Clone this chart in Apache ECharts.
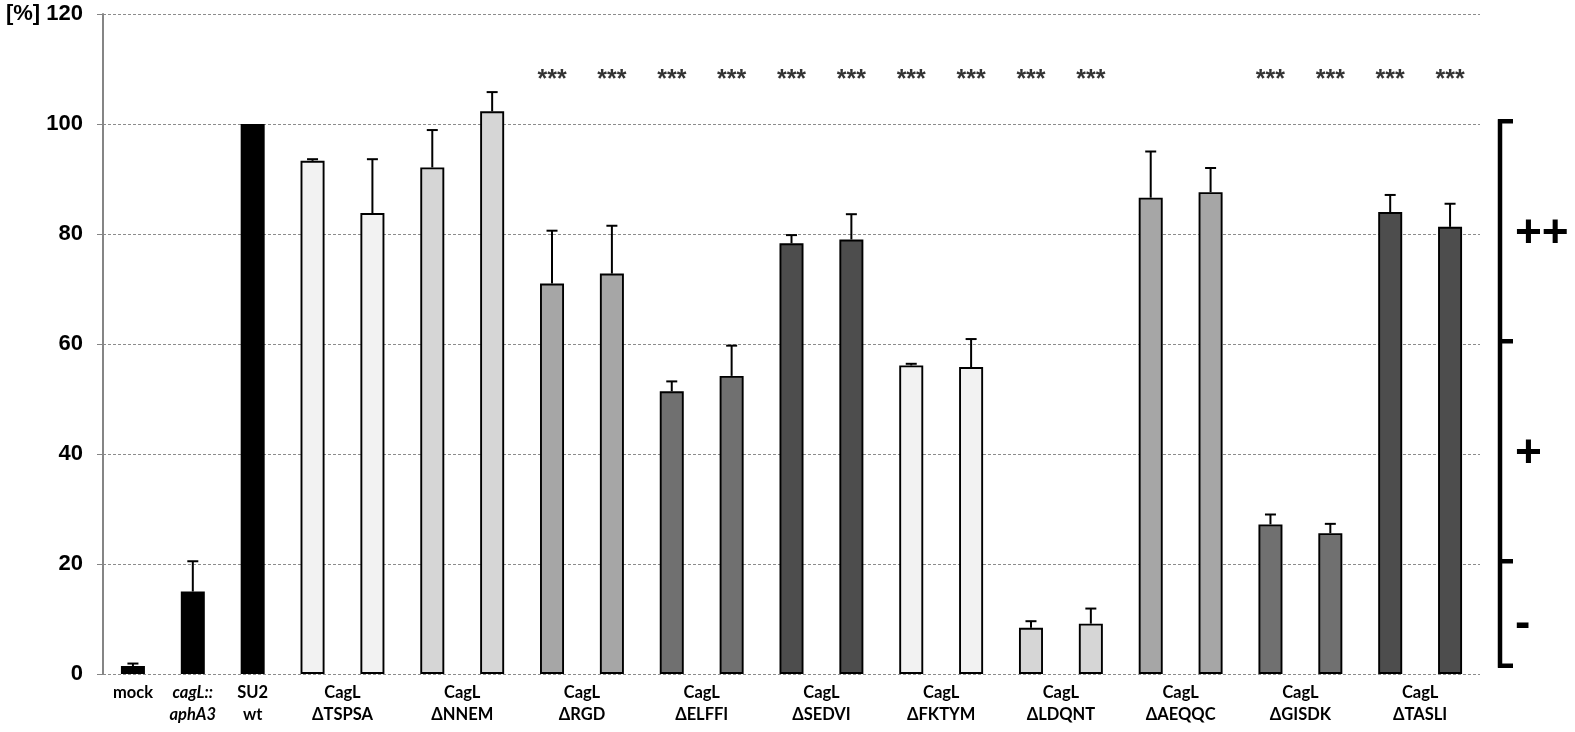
<!DOCTYPE html>
<html>
<head>
<meta charset="utf-8">
<script src="https://cdn.jsdelivr.net/npm/echarts@6/dist/echarts.min.js"></script>
<style>
html,body{margin:0;padding:0;background:#fff;}
#chart{width:1575px;height:732px;}
</style>
</head>
<body>
<div id="chart"></div>
<script>
// ---- data ----
const groupNames = ['mock', 'cagL::\naphA3', 'SU2\nwt', 'CagL\nΔTSPSA', 'CagL\nΔNNEM', 'CagL\nΔRGD', 'CagL\nΔELFFI', 'CagL\nΔSEDVI', 'CagL\nΔFKTYM', 'CagL\nΔLDQNT', 'CagL\nΔAEQQC', 'CagL\nΔGISDK', 'CagL\nΔTASLI'];
const groupSizes = [1, 1, 1, 2, 2, 2, 2, 2, 2, 2, 2, 2, 2];
const groupColors = ['#000000', '#000000', '#000000', '#f2f2f2', '#d6d6d6', '#a6a6a6', '#707070', '#4d4d4d', '#f2f2f2', '#d6d6d6', '#a6a6a6', '#707070', '#4d4d4d'];
const categories = ['mock', 'cagL::aphA3', 'SU2 wt', 'ΔTSPSA a', 'ΔTSPSA b', 'ΔNNEM a', 'ΔNNEM b', 'ΔRGD a', 'ΔRGD b', 'ΔELFFI a', 'ΔELFFI b', 'ΔSEDVI a', 'ΔSEDVI b', 'ΔFKTYM a', 'ΔFKTYM b', 'ΔLDQNT a', 'ΔLDQNT b', 'ΔAEQQC a', 'ΔAEQQC b', 'ΔGISDK a', 'ΔGISDK b', 'ΔTASLI a', 'ΔTASLI b'];
const values = [1.45, 15.0, 100, 93.3, 83.8, 92.1, 102.3, 71.0, 72.8, 51.4, 54.2, 78.3, 79.0, 56.1, 55.8, 8.4, 9.15, 86.6, 87.6, 27.2, 25.6, 84.0, 81.3];
const errors = [0.45, 5.5, 0, 0.3, 9.8, 6.8, 3.5, 9.6, 8.7, 1.8, 5.5, 1.5, 4.6, 0.3, 5.1, 1.2, 2.75, 8.4, 4.4, 1.8, 1.7, 3.1, 4.2];
const significant = [false, false, false, false, false, false, false, true, true, true, true, true, true, true, true, true, true, false, false, true, true, true, true];
const sigMark = '***';
const yTicks = [0, 20, 40, 60, 80, 100, 120];
const yUnit = '[%]';
const bracketLevels = [100.5, 60.5, 20.5, 1.5];
const tierLabels = ['++', '+', '-'];
const tierPositions = [80, 40, 9];

// ---- derived ----
const barColors = [];
const labelAt = {};
let idx = 0;
groupSizes.forEach((s, g) => {
  for (let k = 0; k < s; k++) barColors.push(groupColors[g]);
  labelAt[(idx + (s - 1) / 2).toFixed(1)] = groupNames[g];
  idx += s;
});

const chart = echarts.init(document.getElementById('chart'));
const catFont = 'Lato, "Open Sans", sans-serif';

const option = {
  animation: false,
  backgroundColor: '#fff',
  grid: { left: 103, right: 95, top: 14, bottom: 58, containLabel: false },
  xAxis: [
    {
      type: 'category', data: categories, position: 'bottom',
      axisLine: { show: false }, axisTick: { show: false }, axisLabel: { show: false }, splitLine: { show: false }
    },
    {
      type: 'value', min: -0.5, max: 22.5, interval: 0.5, position: 'bottom',
      axisLine: { show: false }, axisTick: { show: false }, splitLine: { show: false },
      axisLabel: {
        show: true, margin: 8, showMinLabel: true, showMaxLabel: true, hideOverlap: false,
        formatter: function (v) {
          const t = labelAt[v.toFixed(1)];
          if (!t) return '';
          if (t.indexOf('cagL::') === 0) {
            return t.split('\n').map(s => '{it|' + s + '}').join('\n');
          }
          return t.split('\n').map(s => '{b|' + s + '}').join('\n');
        },
        rich: {
          b: { fontFamily: catFont, fontWeight: 'bold', fontSize: 16.5, color: '#000', lineHeight: 22 },
          it: { fontFamily: catFont, fontWeight: 'bold', fontStyle: 'italic', fontSize: 16.5, color: '#000', lineHeight: 22 }
        }
      }
    }
  ],
  yAxis: {
    type: 'value', min: 0, max: 120, interval: 20,
    axisLine: { show: true, onZero: false, lineStyle: { color: '#858585', width: 2 } },
    axisTick: { show: true, inside: false, length: 6, lineStyle: { color: '#858585', width: 1 } },
    axisLabel: {
      margin: 20, color: '#000', fontSize: 22, fontWeight: 'bold', fontFamily: '"Liberation Sans", Arial, sans-serif',
      formatter: function (v) { return (v === yTicks[yTicks.length - 1]) ? yUnit + ' ' + v : String(v); }
    },
    splitLine: { show: true, lineStyle: { color: '#8c8c8c', width: 1, type: [3, 2] } }
  },
  series: [
    {
      type: 'bar', xAxisIndex: 0, barWidth: 24, z: 2,
      data: values.map((v, i) => ({ value: v, itemStyle: { color: barColors[i], borderColor: '#000', borderWidth: 1.9 } }))
    },
    {
      type: 'custom', xAxisIndex: 0, z: 3,
      data: values.map((v, i) => [i, v, v + errors[i], errors[i]]),
      renderItem: function (params, api) {
        if (api.value(3) <= 0) return null;
        const p0 = api.coord([api.value(0), api.value(1)]);
        const p1 = api.coord([api.value(0), api.value(2)]);
        const st = { stroke: '#000', lineWidth: 2 };
        return {
          type: 'group',
          children: [
            { type: 'line', shape: { x1: p0[0], y1: p0[1], x2: p1[0], y2: p1[1] }, style: st },
            { type: 'line', shape: { x1: p1[0] - 5.5, y1: p1[1], x2: p1[0] + 5.5, y2: p1[1] }, style: st }
          ]
        };
      }
    },
    {
      type: 'scatter', xAxisIndex: 0, symbolSize: 0, z: 4,
      data: significant.map((s, i) => s ? [i, 108] : null).filter(d => d),
      label: {
        show: true, position: 'inside', formatter: sigMark,
        fontSize: 25, fontWeight: 'bold', color: '#000', fontFamily: '"Liberation Sans", Arial, sans-serif'
      }
    }
  ]
};
chart.setOption(option);

// bracket on the right, positioned through the y scale
const bx = 1500;
const yPix = bracketLevels.map(v => chart.convertToPixel({ yAxisIndex: 0 }, v));
const els = [];
els.push({ type: 'line', shape: { x1: bx, y1: yPix[0] - 2, x2: bx, y2: yPix[yPix.length - 1] + 2 }, style: { stroke: '#000', lineWidth: 4.5 } });
yPix.forEach(y => {
  els.push({ type: 'line', shape: { x1: bx - 2, y1: y, x2: bx + 13, y2: y }, style: { stroke: '#000', lineWidth: 4.5 } });
});
tierLabels.forEach((t, i) => {
  const y = chart.convertToPixel({ yAxisIndex: 0 }, tierPositions[i]);
  els.push({
    type: 'text', x: 1515, y: y,
    style: { text: t, fill: '#000', fontSize: 46, fontWeight: 'bold', fontFamily: '"Liberation Sans", Arial, sans-serif', verticalAlign: 'middle', align: 'left' }
  });
});
chart.setOption({ graphic: { elements: els } });
</script>
</body>
</html>
